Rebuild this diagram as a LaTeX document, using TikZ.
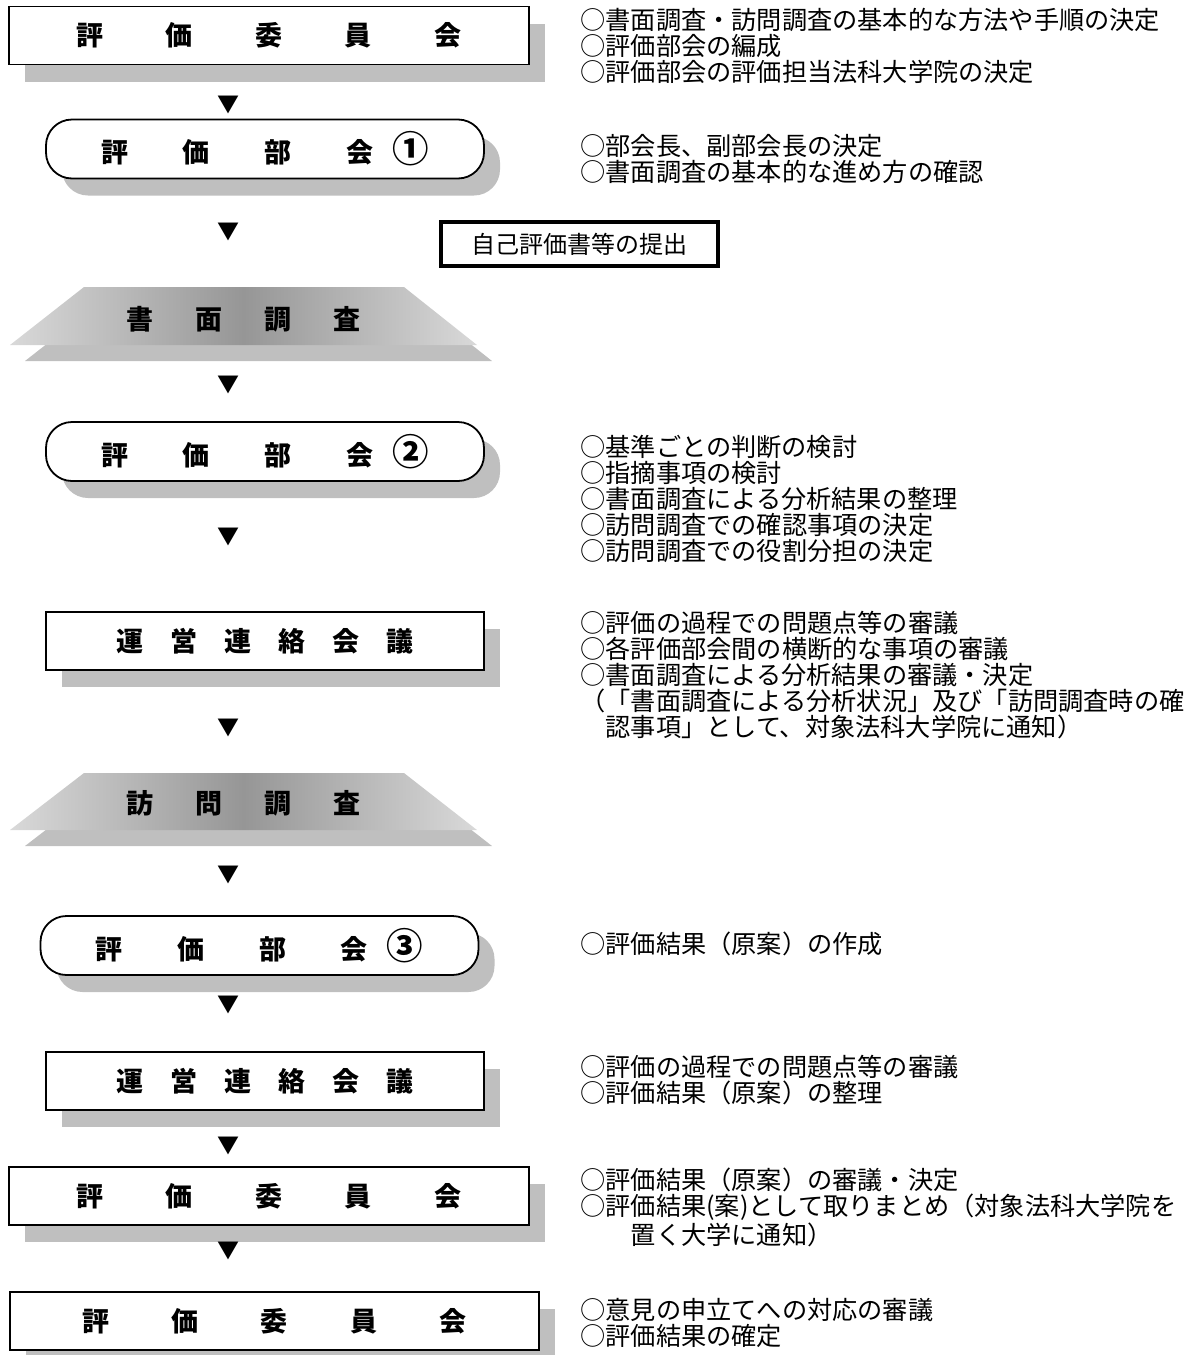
\documentclass[tikz,border=0pt]{standalone}
\usepackage{fontspec}
\setmainfont{Noto Sans CJK JP}
\usepackage{graphicx}
\usepackage{tikz}

\definecolor{shadowgray}{HTML}{BFBFBF}
\definecolor{trapedge}{HTML}{D9D9D9}
\definecolor{trapmid}{HTML}{969696}

\newcommand{\iinkai}{評\hspace{31.25pt}価\hspace{31.25pt}委\hspace{31.25pt}員\hspace{31.25pt}会}
\newcommand{\bukai}[1]{\raisebox{-2pt}{評\hspace{27.3pt}価\hspace{27.3pt}部\hspace{27.3pt}会\hspace{9.5pt}\scalebox{1.35}{#1}}}
\newcommand{\renraku}{運\hspace{13.5pt}営\hspace{13.5pt}連\hspace{13.5pt}絡\hspace{13.5pt}会\hspace{13.5pt}議}
\newcommand{\chosa}[2]{#1\hspace{21pt}#2\hspace{21pt}調\hspace{21pt}査}

\begin{document}
\begin{tikzpicture}[x=0.5pt,y=-0.5pt,
      title/.style={font=\fontsize{13.5pt}{15pt}\selectfont\bfseries,inner sep=0pt},
      panel/.style={title,draw,line width=0.9pt,fill=white,minimum height=29pt},
      pill/.style={panel,rounded corners=13pt,minimum width=219pt,minimum height=29.5pt},
      shelf/.style={left color=trapedge,right color=trapedge,middle color=trapmid},
      castshade/.style={fill=shadowgray,draw=none,xshift=8pt,yshift=-8.5pt},
      pointer/.style={font=\fontsize{11pt}{11pt}\selectfont,inner sep=0pt},
      note/.style={anchor=west,align=left,inner sep=0pt,
        font=\fontsize{12.6pt}{13pt}\selectfont}]
    \useasboundingbox (0,0) rectangle (1198,1355);

    \node[panel,castshade,minimum width=260pt] (b1s) at (269,35.5) {};
    \node[pill,castshade] (r1s) at (265,149) {};
    \fill[shadowgray] (99,303) -- (419,303) -- (492,361) -- (25,361) -- cycle;
    \node[pill,castshade] (r2s) at (265,451.5) {};
    \node[panel,castshade,minimum width=219pt] (u1s) at (265,641) {};
    \fill[shadowgray] (99,789) -- (419,789) -- (492,846) -- (25,846) -- cycle;
    \node[pill,castshade] (r3s) at (259.5,945.5) {};
    \node[panel,castshade,minimum width=219pt] (u2s) at (265,1081) {};
    \node[panel,castshade,minimum width=260pt] (b3s) at (269,1196) {};
    \node[panel,castshade,minimum width=264.5pt] (b4s) at (274.5,1321) {};

    \node[panel,minimum width=260pt] (b1) at (269,35.5) {\iinkai};
    \node[pointer] (p1) at (228,105) {▼};
    \node[pill] (r1) at (265,149) {\bukai{①}};
    \node[pointer] (p2) at (228,232) {▼};
    \node[draw,line width=1.6pt,minimum width=138.5pt,minimum height=22pt,inner sep=0pt,
      font=\fontsize{12pt}{14pt}\selectfont] (self) at (579.5,244) {自己評価書等の提出};
    \shade[shelf] (84,287) -- (404,287) -- (477,345) -- (10,345) -- cycle;
    \node[title] (t1) at (243.5,319) {\chosa{書}{面}};
    \node[pointer] (p3) at (228,385) {▼};
    \node[pill] (r2) at (265,451.5) {\bukai{②}};
    \node[pointer] (p4) at (228,537) {▼};
    \node[panel,minimum width=219pt] (u1) at (265,641) {\renraku};
    \node[pointer] (p5) at (228,728) {▼};
    \shade[shelf] (84,773) -- (404,773) -- (477,830) -- (10,830) -- cycle;
    \node[title] (t2) at (243.5,803) {\chosa{訪}{問}};
    \node[pointer] (p6) at (228,875) {▼};
    \node[pill] (r3) at (259.5,945.5) {\bukai{③}};
    \node[pointer] (p7) at (228,1005) {▼};
    \node[panel,minimum width=219pt] (u2) at (265,1081) {\renraku};
    \node[pointer] (p8) at (228,1146) {▼};
    \node[panel,minimum width=260pt] (b3) at (269,1196) {\iinkai};
    \node[pointer] (p9) at (228,1251) {▼};
    \node[panel,minimum width=264.5pt] (b4) at (274.5,1321) {\iinkai};

    \node[note] (nb1) at (580,46) {○書面調査・訪問調査の基本的な方法や手順の決定\\
      ○評価部会の編成\\○評価部会の評価担当法科大学院の決定};
    \node[note] (nr1) at (580,158.5) {○部会長、副部会長の決定\\○書面調査の基本的な進め方の確認};
    \node[note] (nr2) at (580,498.5) {○基準ごとの判断の検討\\○指摘事項の検討\\
      ○書面調査による分析結果の整理\\○訪問調査での確認事項の決定\\○訪問調査での役割分担の決定};
    \node[note] (nu1) at (580,675) {○評価の過程での問題点等の審議\\○各評価部会間の横断的な事項の審議\\
      ○書面調査による分析結果の審議・決定\\（「書面調査による分析状況」及び「訪問調査時の確\\
      \hspace*{1em}認事項」として、対象法科大学院に通知）};
    \node[note] (nr3) at (580,944) {○評価結果（原案）の作成};
    \node[note] (nu2) at (580,1080) {○評価の過程での問題点等の審議\\○評価結果（原案）の整理};
    \node[note] (nb3) at (580,1207.5) {○評価結果（原案）の審議・決定\\
      ○評価結果(案)として取りまとめ（対象法科大学院を\\\hspace*{2em}置く大学に通知）};
    \node[note] (nb4) at (580,1322.5) {○意見の申立てへの対応の審議\\○評価結果の確定};
\end{tikzpicture}
\end{document}
